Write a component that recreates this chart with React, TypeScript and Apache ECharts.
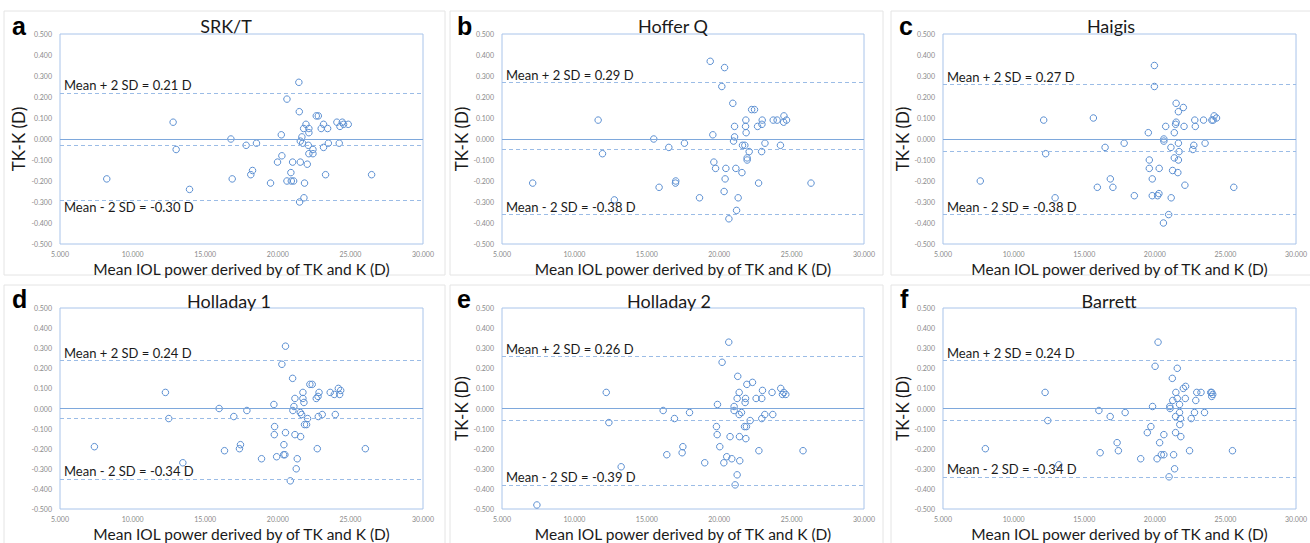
import React, { useEffect, useRef } from 'react';
import * as echarts from 'echarts';

const panelLetters = ['a', 'b', 'c', 'd', 'e', 'f'];
const panelTitles = ['SRK/T', 'Hoffer Q', 'Haigis', 'Holladay 1', 'Holladay 2', 'Barrett'];
const upperLabels = ['Mean + 2 SD = 0.21 D', 'Mean + 2 SD = 0.29 D', 'Mean + 2 SD = 0.27 D', 'Mean + 2 SD = 0.24 D', 'Mean + 2 SD = 0.26 D', 'Mean + 2 SD = 0.24 D'];
const lowerLabels = ['Mean - 2 SD = -0.30 D', 'Mean - 2 SD = -0.38 D', 'Mean - 2 SD = -0.38 D', 'Mean - 2 SD = -0.34 D', 'Mean - 2 SD = -0.39 D', 'Mean - 2 SD = -0.34 D'];
const upperLimits = [0.222, 0.271, 0.26, 0.243, 0.258, 0.241];
const meanDiffs = [-0.033, -0.051, -0.059, -0.052, -0.061, -0.055];
const lowerLimits = [-0.29, -0.362, -0.362, -0.348, -0.379, -0.344];
const zeroLine = 0.004;
const xName = 'Mean IOL power derived by of TK and K (D)';
const yName = 'TK-K (D)';
const xMin = 5, xMax = 30, xStep = 5;
const yMin = -0.5, yMax = 0.5, yStep = 0.1;

const srktPoints = [
  [8.22, -0.19], [12.79, 0.08], [13.0, -0.05], [13.92, -0.24], [16.77, 0.0], [16.86, -0.19], [17.82, -0.03],
  [18.14, -0.17], [18.26, -0.15], [18.53, -0.02], [19.5, -0.21], [20.24, 0.02], [19.98, -0.11], [20.28, -0.08],
  [20.63, 0.19], [20.63, -0.2], [20.9, -0.16], [20.93, -0.2], [21.09, -0.2], [21.02, -0.11], [21.45, 0.27],
  [21.48, 0.13], [21.55, -0.01], [21.55, -0.11], [21.5, -0.3], [21.66, 0.01], [21.71, -0.02], [21.78, 0.05],
  [21.8, -0.28], [21.84, -0.21], [21.94, 0.07], [22.03, -0.12], [22.1, -0.03], [22.14, 0.05], [22.14, 0.03],
  [22.14, -0.07], [22.42, -0.05], [22.42, -0.07], [22.65, 0.11], [22.79, 0.11], [22.99, 0.05], [23.15, 0.07],
  [23.15, -0.04], [23.29, -0.17], [23.43, 0.05], [23.48, -0.02], [24.07, 0.08], [24.23, -0.02], [24.28, 0.06],
  [24.44, 0.08], [24.53, 0.07], [24.85, 0.07], [26.46, -0.17],
];
const hofferQPoints = [
  [7.12, -0.21], [11.64, 0.09], [11.94, -0.07], [12.76, -0.29], [15.48, 0.0], [15.85, -0.23], [16.52, -0.04],
  [17.0, -0.2], [16.98, -0.21], [17.6, -0.02], [18.64, -0.28], [19.38, 0.37], [19.56, 0.02], [19.63, -0.11],
  [19.75, -0.14], [20.18, 0.25], [20.34, -0.25], [20.37, 0.34], [20.41, -0.19], [20.46, -0.14], [20.67, -0.38],
  [20.94, 0.17], [21.06, 0.06], [21.06, 0.01], [20.99, -0.01], [21.15, -0.14], [21.2, -0.34], [21.31, -0.28],
  [21.57, -0.16], [21.61, -0.03], [21.77, -0.03], [21.84, 0.09], [21.82, 0.06], [21.86, 0.03], [21.93, -0.09],
  [21.93, -0.1], [22.07, -0.06], [22.24, 0.14], [22.44, 0.14], [22.65, 0.06], [22.72, -0.21], [22.95, 0.07],
  [22.97, 0.09], [22.93, -0.06], [23.16, -0.02], [23.73, 0.09], [24.0, 0.09], [24.23, -0.03], [24.45, 0.08],
  [24.47, 0.11], [24.65, 0.09], [26.34, -0.21],
];
const haigisPoints = [
  [7.64, -0.2], [12.13, 0.09], [12.27, -0.07], [12.94, -0.28], [15.65, 0.1], [15.93, -0.23], [16.48, -0.04],
  [16.85, -0.19], [17.03, -0.23], [17.83, -0.02], [18.55, -0.27], [19.54, 0.03], [19.61, -0.1], [19.61, -0.14],
  [19.82, -0.19], [19.82, -0.27], [19.97, 0.35], [19.97, 0.25], [20.2, -0.27], [20.29, -0.26], [20.31, -0.14],
  [20.61, -0.4], [20.64, 0.0], [20.64, -0.01], [20.77, 0.06], [20.98, -0.36], [21.14, -0.04], [21.16, -0.28],
  [21.26, -0.15], [21.38, 0.03], [21.38, -0.09], [21.47, 0.07], [21.51, 0.08], [21.51, 0.17], [21.67, 0.13],
  [21.67, -0.02], [21.63, -0.16], [21.67, -0.1], [21.72, -0.06], [22.02, 0.15], [22.07, 0.06], [22.13, -0.22],
  [22.69, -0.05], [22.76, -0.03], [22.83, 0.09], [22.87, 0.06], [23.45, 0.09], [23.56, -0.02], [24.04, 0.09],
  [24.13, 0.09], [24.2, 0.11], [24.37, 0.1], [25.59, -0.23],
];
const holladay1Points = [
  [7.37, -0.19], [12.26, 0.08], [12.49, -0.05], [13.46, -0.27], [15.96, 0.0], [16.33, -0.21], [16.97, -0.04],
  [17.36, -0.2], [17.43, -0.18], [17.87, -0.01], [18.88, -0.25], [19.73, 0.02], [19.78, -0.09], [19.76, -0.13],
  [19.92, -0.24], [20.28, 0.22], [20.42, -0.18], [20.4, -0.23], [20.49, -0.23], [20.53, 0.31], [20.53, -0.12],
  [20.86, -0.36], [21.02, 0.15], [21.04, -0.01], [21.11, 0.01], [21.18, 0.05], [21.18, -0.13], [21.34, -0.25],
  [21.27, -0.3], [21.55, -0.02], [21.64, -0.03], [21.57, -0.14], [21.73, 0.08], [21.73, 0.05], [21.8, 0.03],
  [21.84, -0.08], [21.98, -0.08], [22.05, -0.05], [22.21, 0.12], [22.37, 0.12], [22.65, 0.05], [22.72, -0.2],
  [22.77, 0.06], [22.84, 0.08], [22.79, -0.04], [23.06, -0.03], [23.61, 0.08], [23.89, 0.07], [23.96, -0.03],
  [24.17, 0.1], [24.26, 0.07], [24.33, 0.09], [26.03, -0.2],
];
const holladay2Points = [
  [7.41, -0.48], [12.2, 0.08], [12.38, -0.07], [13.23, -0.29], [16.13, -0.01], [16.38, -0.23], [16.91, -0.05],
  [17.49, -0.19], [17.44, -0.22], [17.95, -0.02], [19.0, -0.27], [19.88, 0.02], [19.81, -0.09], [19.86, -0.13],
  [20.04, -0.19], [20.2, 0.23], [20.32, -0.27], [20.52, -0.24], [20.66, 0.33], [20.75, -0.14], [20.87, -0.25],
  [21.03, 0.01], [21.03, -0.01], [21.1, -0.38], [21.24, -0.33], [21.28, 0.16], [21.24, 0.05], [21.38, 0.08],
  [21.38, -0.03], [21.4, -0.14], [21.42, -0.26], [21.54, -0.02], [21.79, 0.03], [21.82, 0.05], [21.75, -0.09],
  [21.88, -0.09], [21.84, -0.15], [21.91, 0.12], [22.14, -0.06], [22.3, 0.13], [22.55, 0.05], [22.74, -0.21],
  [22.94, 0.05], [22.99, 0.09], [22.94, -0.05], [23.15, -0.03], [23.65, 0.08], [23.7, -0.03], [24.25, 0.1],
  [24.37, 0.07], [24.46, 0.08], [24.6, 0.07], [25.79, -0.21],
];
const barrettPoints = [
  [8.0, -0.2], [12.23, 0.08], [12.42, -0.06], [13.2, -0.28], [16.04, -0.01], [16.13, -0.22], [16.84, -0.04],
  [17.33, -0.17], [17.42, -0.21], [17.9, -0.02], [19.0, -0.25], [19.47, -0.12], [19.72, -0.09], [19.84, 0.01],
  [20.02, 0.21], [20.16, -0.25], [20.23, 0.33], [20.34, -0.17], [20.46, -0.23], [20.64, -0.23], [20.64, -0.13],
  [21.01, -0.34], [21.06, 0.01], [21.08, 0.0], [21.24, 0.15], [21.27, 0.04], [21.33, -0.23], [21.4, -0.3],
  [21.47, -0.12], [21.49, 0.08], [21.47, -0.04], [21.59, 0.2], [21.59, 0.05], [21.75, 0.02], [21.75, -0.02],
  [21.77, -0.08], [21.82, -0.05], [21.84, -0.14], [22.02, 0.1], [22.18, 0.11], [22.16, 0.05], [22.46, -0.21],
  [22.58, -0.05], [22.81, -0.02], [22.9, 0.04], [22.97, 0.08], [23.27, 0.08], [23.52, -0.02], [23.96, 0.08],
  [24.03, 0.06], [24.1, 0.07], [24.03, 0.08], [25.5, -0.21],
];
const panelPoints = [srktPoints, hofferQPoints, haigisPoints, holladay1Points, holladay2Points, barrettPoints];

// layout (pixels)
const gridBoxes = [
  { left: 60, top: 34, width: 363, height: 210 },
  { left: 502, top: 34, width: 362, height: 210 },
  { left: 943, top: 34, width: 362, height: 210 },
  { left: 60, top: 308, width: 363, height: 209 },
  { left: 502, top: 308, width: 362, height: 209 },
  { left: 943, top: 308, width: 362, height: 209 },
];
const yNameGaps = [33, 30, 30, 0, 28, 29];
const showYName = [true, true, true, false, true, true];
const titlePos = [[226, 26], [673, 26], [1111, 26], [229, 301], [669, 301], [1109, 301]];
const letterPos = [[12, 38], [457, 38], [899, 38], [12, 311], [457, 311], [900, 311]];
const framePos = [[4, 11, 441, 264], [450, 11, 433, 264], [891, 11, 425, 264], [4, 285, 441, 280], [450, 285, 433, 280], [891, 285, 425, 280]];
const lowerBelow = [true, false, false, false, false, false];

const FONT = 'Lato, "Open Sans", sans-serif';
const POINT = '#5b8fd2';
const DASH = '#9bbce6';
const BOX = '#a9c4ea';
const ZERO = '#7ea8dc';

export default function App() {
  const ref = useRef<HTMLDivElement>(null);
  useEffect(() => {
    if (!ref.current) return;
    const chart = echarts.init(ref.current, undefined, { renderer: 'svg' });
    const grid: any[] = [];
    const xAxis: any[] = [];
    const yAxis: any[] = [];
    const series: any[] = [];
    const graphic: any[] = [];
    for (let i = 0; i < 6; i++) {
      grid.push({ ...gridBoxes[i], show: true, borderColor: BOX, borderWidth: 1, backgroundColor: 'transparent', containLabel: false });
      xAxis.push({
        type: 'value', gridIndex: i, min: xMin, max: xMax, interval: xStep,
        axisLine: { show: false, onZero: false }, axisTick: { show: false }, splitLine: { show: false },
        axisLabel: { formatter: (v: number) => v.toFixed(3), fontSize: 7, color: '#8a8a8a', margin: 6, fontFamily: FONT, showMinLabel: true, showMaxLabel: true },
        name: xName, nameLocation: 'middle', nameGap: 17,
        nameTextStyle: { fontSize: 15.5, color: '#1a1a1a', fontFamily: FONT },
      });
      yAxis.push({
        type: 'value', gridIndex: i, min: yMin, max: yMax, interval: yStep,
        axisLine: { show: false, onZero: false }, axisTick: { show: false }, splitLine: { show: false },
        axisLabel: { formatter: (v: number) => (Math.abs(v) < 1e-9 ? 0 : v).toFixed(3), fontSize: 7, color: '#8a8a8a', margin: 8, fontFamily: FONT, showMinLabel: true, showMaxLabel: true },
        name: showYName[i] ? yName : '', nameLocation: 'middle', nameGap: yNameGaps[i], nameRotate: 90,
        nameTextStyle: { fontSize: 17, color: '#1a1a1a', fontFamily: FONT },
      });
      const labelStyle = { color: '#1a1a1a', fontSize: 13, fontFamily: FONT };
      series.push({
        type: 'scatter', xAxisIndex: i, yAxisIndex: i, data: panelPoints[i],
        symbol: 'circle', symbolSize: 6.5,
        itemStyle: { color: 'transparent', borderColor: POINT, borderWidth: 1, opacity: 1 },
        markLine: {
          silent: true, symbol: ['none', 'none'], animation: false,
          label: { show: false },
          lineStyle: { color: DASH, width: 1 },
          data: [
            { yAxis: zeroLine, lineStyle: { type: 'solid', color: ZERO, width: 1 } },
            { yAxis: meanDiffs[i], lineStyle: { type: [4, 3], color: DASH, width: 1 } },
            {
              yAxis: upperLimits[i], lineStyle: { type: [4, 3], color: DASH, width: 1 },
              label: { show: true, formatter: upperLabels[i], position: 'insideStartTop', distance: [4, 1], ...labelStyle },
            },
            {
              yAxis: lowerLimits[i], lineStyle: { type: [4, 3], color: DASH, width: 1 },
              label: { show: true, formatter: lowerLabels[i], position: lowerBelow[i] ? 'insideStartBottom' : 'insideStartTop', distance: [4, 1], ...labelStyle },
            },
          ],
        },
      });
      const f = framePos[i];
      graphic.push({ type: 'rect', shape: { x: f[0], y: f[1], width: f[2], height: f[3] }, style: { fill: 'none', stroke: '#e4e4e4', lineWidth: 1 }, z: -1, silent: true });
      graphic.push({ type: 'text', style: { x: titlePos[i][0], y: titlePos[i][1], text: panelTitles[i], align: 'center', verticalAlign: 'middle', fontSize: 18, fill: '#1a1a1a', fontFamily: FONT }, silent: true });
      graphic.push({ type: 'text', style: { x: letterPos[i][0], y: letterPos[i][1], text: panelLetters[i], align: 'left', verticalAlign: 'bottom', fontSize: 25, fontWeight: 'bold', fill: '#000', fontFamily: '"Liberation Sans", Arial, sans-serif' }, silent: true });
    }
    chart.setOption({ animation: false, backgroundColor: '#ffffff', grid, xAxis, yAxis, series, graphic });
    return () => chart.dispose();
  }, []);
  return <div ref={ref} style={{ position: 'fixed', left: 0, top: 0, width: 1310, height: 543 }} />;
}
